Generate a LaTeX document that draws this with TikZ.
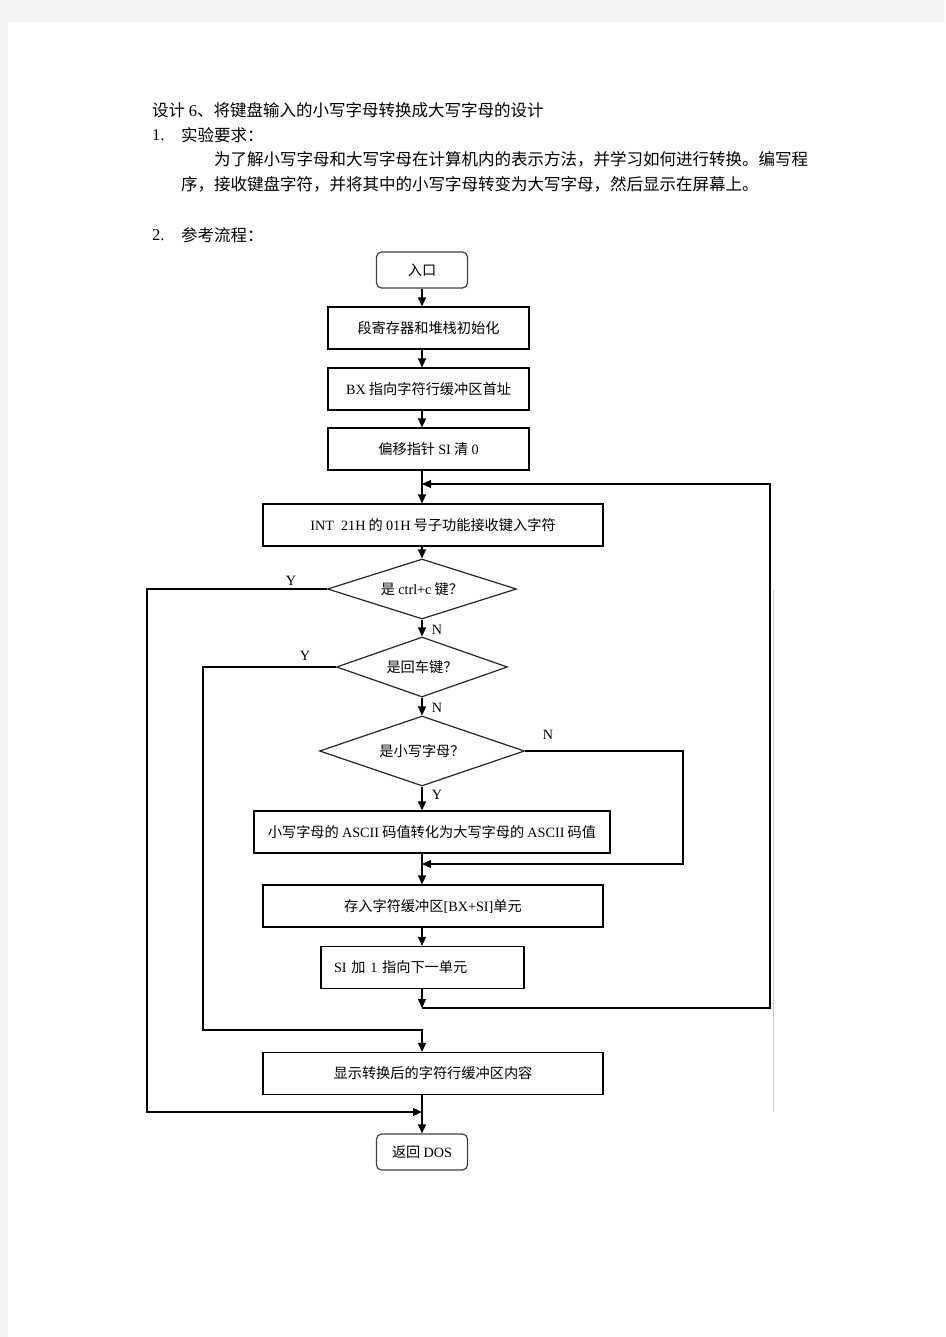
\documentclass[tikz,border=0pt]{standalone}
\usepackage{fontspec}
\setmainfont{Noto Sans CJK SC}
\newfontfamily\lat{Liberation Serif}
\usetikzlibrary{arrows.meta,shapes.geometric,positioning,shadows}
\definecolor{pagegray}{RGB}{244,244,244}
\definecolor{railgray}{RGB}{205,205,205}
\newcommand{\bodyfont}{\fontsize{16.5}{20}\selectfont}
\newcommand{\chartfont}{\fontsize{14.2}{17}\selectfont}

\begin{document}
\begin{tikzpicture}[x=1pt,y=-1pt,
  every node/.style={font=\chartfont,inner sep=0pt},
  txt/.style={anchor=west,font=\bodyfont},
  proc/.style={draw,line width=1.2pt,fill=white,minimum height=42pt,
    drop shadow={shadow xshift=0.9pt,shadow yshift=-0.9pt,opacity=0.85,fill=black}},
  term/.style={draw=black!75,line width=1.2pt,rounded corners=5pt,
    minimum width=91pt,minimum height=36pt},
  dec/.style={diamond,draw=black!85,line width=1.2pt,aspect=3},
  lab/.style={font=\lat\chartfont},
  wire/.style={line width=1.3pt},
  arr/.style={wire,-{Triangle[length=9pt,width=8pt]}},
]

%% page
\useasboundingbox (0,0) rectangle (945,1337);
\fill[pagegray] (0,0) rectangle (945,1337);
\fill[white] (8,22) rectangle (945,1337);

%% heading text
\node[txt] (title) at (152,110) {设计 {\lat 6}、将键盘输入的小写字母转换成大写字母的设计};
\node[txt] (reqno) at (152,135) {{\lat 1.}};
\node[txt] (req)   at (181,135) {实验要求：};
\node[txt] (para1) at (214,159) {为了解小写字母和大写字母在计算机内的表示方法，并学习如何进行转换。编写程};
\node[txt] (para2) at (181,184) {序，接收键盘字符，并将其中的小写字母转变为大写字母，然后显示在屏幕上。};
\node[txt] (refno) at (152,235) {{\lat 2.}};
\node[txt] (ref)   at (181,235) {参考流程：};

%% flow nodes
\node[term] (start) at (422,270) {入口};
\node[proc,minimum width=201pt] (init)  at (428.5,328) {段寄存器和堆栈初始化};
\node[proc,minimum width=201pt] (setbx) at (428.5,389) {{\lat BX} 指向字符行缓冲区首址};
\node[proc,minimum width=201pt] (clrsi) at (428.5,449) {偏移指针 {\lat SI} 清 {\lat 0}};
\node[proc,minimum width=340pt] (getch) at (433,525) {{\lat INT\ \ 21H} 的 {\lat 01H} 号子功能接收键入字符};
\node[dec,minimum width=189pt,minimum height=60pt] (isctrl)  at (422,589) {是 {\lat ctrl+c} 键？};
\node[dec,minimum width=171pt,minimum height=60pt] (isenter) at (422,667) {是回车键？};
\node[dec,minimum width=205pt,minimum height=70pt] (islower) at (422,751) {是小写字母？};
\node[proc,minimum width=356pt] (toupper) at (432,832) {小写字母的 {\lat ASCII} 码值转化为大写字母的 {\lat ASCII} 码值};
\node[proc,minimum width=340pt] (store) at (433,906) {存入字符缓冲区{\lat [BX+SI]}单元};
\node[proc,minimum width=203pt,text width=177pt,align=left,inner xsep=13pt] (incsi) at (422.5,967.5) {{\lat SI} 加 {\lat 1} 指向下一单元};
\node[proc,minimum width=340pt] (show) at (433,1073.5) {显示转换后的字符行缓冲区内容};
\node[term] (stop) at (422,1152) {返回 {\lat DOS}};

%% branch labels
\node[lab] (yctrl)  at (291,581) {Y};
\node[lab] (nctrl)  at (437,630) {N};
\node[lab] (yenter) at (305,656) {Y};
\node[lab] (nenter) at (437,708) {N};
\node[lab] (nlower) at (548,735) {N};
\node[lab] (ylower) at (437,795) {Y};

%% junctions and rails
\coordinate (spine)  at (422,0);
\coordinate (loopin) at (422,484);
\coordinate (merge)  at (422,864);
\coordinate (back)   at (422,1008);
\coordinate (showin) at (422,1030);
\coordinate (exitpt) at (422,1112);
\coordinate (railR)  at (770,0);
\coordinate (railN)  at (683,0);
\coordinate (railA)  at (147,0);
\coordinate (railB)  at (203,0);

%% main line
\draw[arr] (start.south) -- (init.north -| spine);
\draw[arr] (init.south -| spine) -- (setbx.north -| spine);
\draw[arr] (setbx.south -| spine) -- (clrsi.north -| spine);
\draw[arr] (clrsi.south -| spine) -- (getch.north -| spine);
\draw[arr] (getch.south -| spine) -- (isctrl.north);
\draw[arr] (isctrl.south) -- (isenter.north);
\draw[arr] (isenter.south) -- (islower.north);
\draw[arr] (islower.south) -- (toupper.north -| spine);
\draw[arr] (toupper.south -| spine) -- (store.north -| spine);
\draw[arr] (store.south -| spine) -- (incsi.north -| spine);
\draw[arr] (incsi.south -| spine) -- (back);
\draw[arr] (show.south -| spine) -- (stop.north);

%% loops and branches
\draw[arr] (back) -- (back -| railR) -- (loopin -| railR) -- (loopin);
\draw[arr] (islower.east) -- (islower.east -| railN) -- (merge -| railN) -- (merge);
\draw[arr] (isenter.west) -- (isenter.west -| railB) -- (showin -| railB)
  -- (showin) -- (show.north -| spine);
\draw[arr] (isctrl.west) -- (isctrl.west -| railA) -- (exitpt -| railA) -- (exitpt);

%% faint scan line
\draw[railgray,line width=0.7pt] (773,590) -- (773,1112);

\end{tikzpicture}
\end{document}
